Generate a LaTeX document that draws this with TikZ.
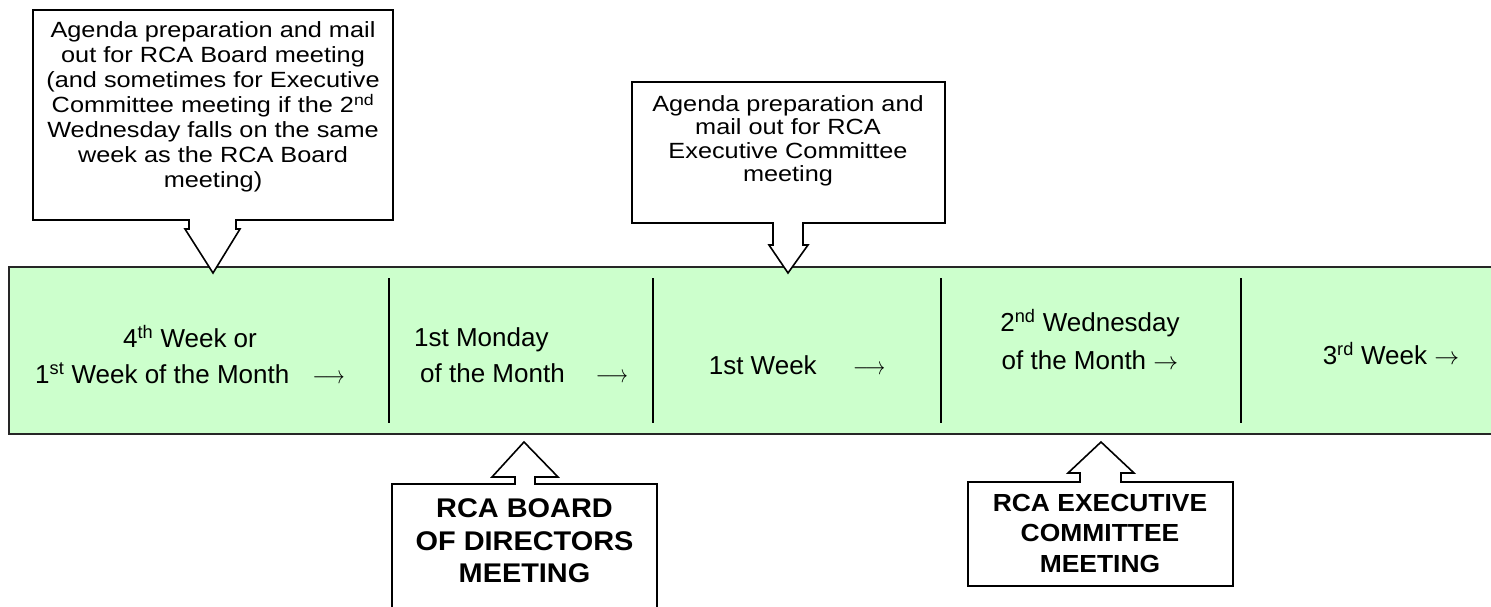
\documentclass[tikz,border=0pt]{standalone}
\usepackage{fontspec}
\setmainfont{Liberation Sans}
\newfontfamily\calloutfont[FakeStretch=1.15]{Liberation Sans}
\newfontfamily\meetingfont[FakeStretch=1.07]{Liberation Sans}
\usepackage{xcolor}
\usepackage{tikz}
\usetikzlibrary{calc, positioning}
\definecolor{bandgreen}{RGB}{204,255,204}

\begin{document}
\begin{tikzpicture}[x=1pt, y=-1pt,
    callout/.style={draw=black, line width=1.6pt, fill=white, line join=miter},
    divider/.style={line width=2pt, black},
    weektext/.style={font=\fontsize{26}{36}\selectfont, align=center, inner sep=0pt},
    agendatext/.style={font=\calloutfont\fontsize{22}{23.5}\selectfont, align=center, inner sep=0pt},
    meetingtext/.style={font=\meetingfont\bfseries\fontsize{27}{32.5}\selectfont, align=center, inner sep=0pt}]
    %\draw[step=100pt, gray, very thin] (0,0) grid (1491,607);
    \useasboundingbox (0,0) rectangle (1491,607);

    \node[draw=black!85, line width=2pt, fill=bandgreen, minimum width=1530pt, minimum height=167pt, anchor=north west, inner sep=0pt] (band) at (8,266) {};

    \draw[divider] (389,278) -- (389,423);
    \draw[divider] (653,278) -- (653,423);
    \draw[divider] (941,278) -- (941,423);
    \draw[divider] (1241,278) -- (1241,423);

    \node[weektext] (fourthweek) at (190,355) {4\textsuperscript{th} Week or\\ 1\textsuperscript{st} Week of the Month\hspace{0.9em}\scalebox{0.8}[1]{$\longrightarrow$}};
    \node[weektext, align=left, anchor=west] (firstmonday) at (414,355) {1st Monday\\ \hspace*{6pt}of the Month\hspace{1.2em}\scalebox{0.8}[1]{$\longrightarrow$}};
    \node[weektext] (firstweek) at (797,365) {1st Week\hspace{1.4em}\scalebox{0.8}[1]{$\longrightarrow$}};
    \node[weektext, font=\fontsize{26}{38}\selectfont] (secondwed) at (1090,340) {2\textsuperscript{nd} Wednesday\\ of the Month $\rightarrow$};
    \node[weektext] (thirdweek) at (1391,354) {3\textsuperscript{rd} Week $\rightarrow$};

    % agenda callouts above the band
    \draw[callout] (33,10) -- (393,10) -- (393,220) -- (236,220) -- (236,229) -- (240,229) -- (213,273)
      -- (185,229) -- (189,229) -- (189,220) -- (33,220) -- cycle;
    \draw[callout] (632,82) -- (945,82) -- (945,223) -- (803,223) -- (803,245) -- (808,245) -- (788,273)
      -- (769,245) -- (773,245) -- (773,223) -- (632,223) -- cycle;

    \node[agendatext, font=\calloutfont\fontsize{22}{25}\selectfont] (boardprep) at (213,107) {Agenda preparation and mail\\ out for RCA Board meeting\\ (and sometimes for Executive\\ Committee meeting if the 2\textsuperscript{nd}\\ Wednesday falls on the same\\ week as the RCA Board\\ meeting)};
    \node[agendatext] (execprep) at (788,141) {Agenda preparation and\\ mail out for RCA\\ Executive Committee\\ meeting};

    % meeting callouts below the band
    \draw[callout] (392,640) -- (392,484) -- (515,484) -- (515,477) -- (492,477) -- (524,442)
      -- (558,477) -- (535,477) -- (535,484) -- (657,484) -- (657,640) -- cycle;
    \draw[callout] (968,586) -- (968,482) -- (1080,482) -- (1080,473) -- (1068,473) -- (1101,442)
      -- (1134,473) -- (1121,473) -- (1121,482) -- (1233,482) -- (1233,586) -- cycle;

    \node[meetingtext] (boardmeet) at (524.5,541) {RCA BOARD\\ OF DIRECTORS\\ MEETING};
    \node[meetingtext, font=\meetingfont\bfseries\fontsize{24.7}{30.5}\selectfont] (execmeet) at (1100,533) {RCA EXECUTIVE\\ COMMITTEE\\ MEETING};

  \end{tikzpicture}
\end{document}
